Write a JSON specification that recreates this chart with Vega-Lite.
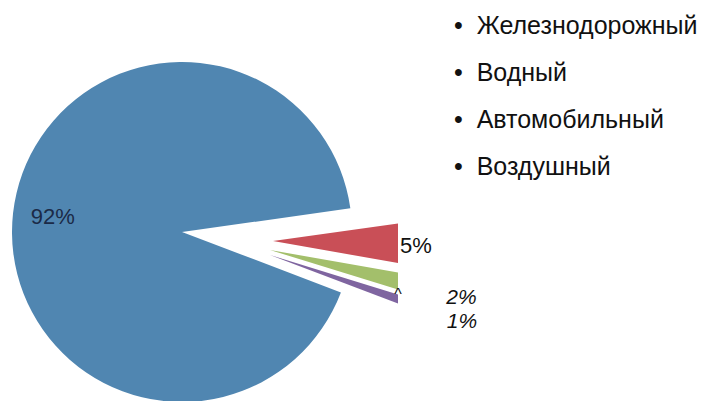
{
  "$schema": "https://vega.github.io/schema/vega-lite/v6.json",
  "width": 398,
  "height": 401,
  "autosize": "none",
  "padding": {"left": 0, "top": 0, "right": 305, "bottom": 0},
  "background": "white",
  "config": {"view": {"stroke": null}, "font": "Liberation Sans"},
  "data": {"values": [
    {"type": "Железнодорожный", "share": 92, "label": "92%", "note": ""},
    {"type": "Водный", "share": 5, "label": "5%", "note": ""},
    {"type": "Автомобильный", "share": 2, "label": "2%", "note": ""},
    {"type": "Воздушный", "share": 1, "label": "1%", "note": "^"}
  ]},
  "transform": [
    {"stack": "share", "groupby": [], "sort": [{"field": "share", "order": "descending"}], "as": ["t0", "t1"]},
    {"calculate": "(datum.t0 + datum.t1) / 2", "as": "mid"}
  ],
  "encoding": {
    "color": {
      "field": "type", "type": "nominal",
      "scale": {"domain": ["Железнодорожный", "Водный", "Автомобильный", "Воздушный"], "range": ["#5086b1", "#c94f57", "#a3bf6b", "#7f65a0"]},
      "legend": {
        "title": null, "orient": "none", "legendX": 429, "legendY": 13,
        "symbolSize": 0, "symbolOpacity": 0, "symbolStrokeWidth": 0, "labelOffset": 0,
        "labelExpr": "'•\u00a0\u00a0' + datum.label",
        "labelFont": "Liberation Sans", "labelFontSize": 25, "labelColor": "#111111", "labelLimit": 400,
        "rowPadding": 21, "padding": 0
      }
    }
  },
  "layer": [
    {
      "transform": [{"filter": "datum.type == 'Железнодорожный'"}],
      "mark": {"type": "arc", "radius": 170, "xOffset": -17, "yOffset": 31.5},
      "encoding": {
        "theta": {"field": "t0", "type": "quantitative", "scale": {"domain": [0, 100], "range": [1.934, 8.217]}},
        "theta2": {"field": "t1"}
      }
    },
    {
      "transform": [{"filter": "datum.type == 'Водный'"}],
      "mark": {"type": "arc", "radius": 170, "xOffset": 74, "yOffset": 40.5, "clip": true},
      "encoding": {
        "theta": {"field": "t0", "type": "quantitative", "scale": {"domain": [0, 100], "range": [1.934, 8.217]}},
        "theta2": {"field": "t1"}
      }
    },
    {
      "transform": [{"filter": "datum.type == 'Автомобильный'"}],
      "mark": {"type": "arc", "radius": 170, "xOffset": 71, "yOffset": 49.5, "clip": true},
      "encoding": {
        "theta": {"field": "t0", "type": "quantitative", "scale": {"domain": [0, 100], "range": [1.934, 8.217]}},
        "theta2": {"field": "t1"}
      }
    },
    {
      "transform": [{"filter": "datum.type == 'Воздушный'"}],
      "mark": {"type": "arc", "radius": 170, "xOffset": 71, "yOffset": 54.5, "clip": true},
      "encoding": {
        "theta": {"field": "t0", "type": "quantitative", "scale": {"domain": [0, 100], "range": [1.934, 8.217]}},
        "theta2": {"field": "t1"}
      }
    },
    {
      "transform": [{"filter": "datum.type == 'Железнодорожный'"}],
      "mark": {"type": "text", "radius": 130, "xOffset": -17, "yOffset": 31.5, "fontSize": 22, "color": "#1b2a47", "align": "center", "baseline": "middle"},
      "encoding": {
        "theta": {"field": "mid", "type": "quantitative", "scale": {"domain": [0, 100], "range": [1.934, 8.217]}},
        "text": {"field": "label"},
        "color": {"value": "#1b2a47"}
      }
    },
    {
      "transform": [{"filter": "datum.type == 'Водный'"}],
      "mark": {"type": "text", "radius": 143, "xOffset": 74, "yOffset": 43, "fontSize": 22, "align": "center", "baseline": "middle"},
      "encoding": {
        "theta": {"field": "mid", "type": "quantitative", "scale": {"domain": [0, 100], "range": [1.934, 8.217]}},
        "text": {"field": "label"},
        "color": {"value": "#111111"}
      }
    },
    {
      "transform": [{"filter": "datum.type == 'Автомобильный'"}],
      "mark": {"type": "text", "radius": 197, "xOffset": 71, "yOffset": 51, "fontSize": 21, "fontStyle": "italic", "align": "center", "baseline": "middle"},
      "encoding": {
        "theta": {"field": "mid", "type": "quantitative", "scale": {"domain": [0, 100], "range": [1.934, 8.217]}},
        "text": {"field": "label"},
        "color": {"value": "#111111"}
      }
    },
    {
      "transform": [{"filter": "datum.type == 'Воздушный'"}],
      "mark": {"type": "text", "radius": 203, "xOffset": 71, "yOffset": 55, "fontSize": 21, "fontStyle": "italic", "align": "center", "baseline": "middle"},
      "encoding": {
        "theta": {"field": "mid", "type": "quantitative", "scale": {"domain": [0, 100], "range": [1.934, 8.217]}},
        "text": {"field": "label"},
        "color": {"value": "#111111"}
      }
    },
    {
      "transform": [{"filter": "datum.type == 'Воздушный'"}],
      "mark": {"type": "text", "radius": 134, "xOffset": 71, "yOffset": 54.5, "fontSize": 16, "align": "center", "baseline": "middle"},
      "encoding": {
        "theta": {"field": "t0", "type": "quantitative", "scale": {"domain": [0, 100], "range": [1.934, 8.217]}},
        "text": {"field": "note"},
        "color": {"value": "#111111"}
      }
    }
  ]
}
